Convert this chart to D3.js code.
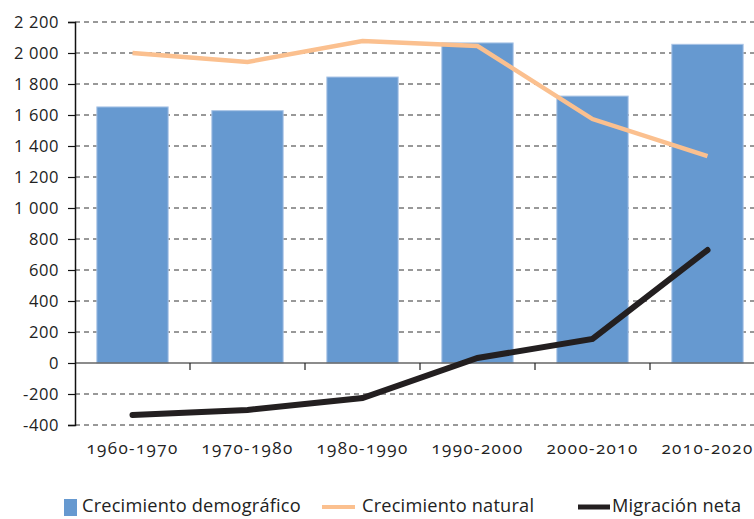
<!DOCTYPE html>
<html><head><meta charset="utf-8">
<script src="https://cdn.jsdelivr.net/npm/d3@7"></script>
<style>
body{margin:0;background:#fff;}
svg{display:block;font-family:"Open Sans",sans-serif;}
.num{font-feature-settings:"onum" 1;}
</style></head><body>
<svg id="c" width="754" height="519"></svg>
<script>
const categories = ["1960-1970","1970-1980","1980-1990","1990-2000","2000-2010","2010-2020"];
const crecimientoDemografico = [1652, 1628, 1845, 2065, 1722, 2056];
const crecimientoNatural = [2000, 1942, 2077, 2045, 1574, 1335];
const migracionNeta = [-335, -303, -226, 32, 155, 729];
const yTicks = [-400,-200,0,200,400,600,800,1000,1200,1400,1600,1800,2000,2200];
const seriesNames = ["Crecimiento demográfico","Crecimiento natural","Migración neta"];

const svg = d3.select("#c");
const x0 = 75, plotRight = 765;
const x = d3.scaleBand().domain(categories).range([x0, plotRight]).paddingInner(0.38).paddingOuter(0.19);
const y = d3.scaleLinear().domain([-400,2200]).range([425,22]);
const fmt = v => (v<0?"-":"") + d3.format(",")(Math.abs(v)).replace(/,/g," ");

// gridlines
svg.append("g").selectAll("line").data(yTicks.filter(t=>t!==0)).join("line")
  .attr("x1",x0).attr("x2",754).attr("y1",d=>y(d)).attr("y2",d=>y(d))
  .attr("stroke","#333").attr("stroke-width",1).attr("stroke-dasharray","5,4");

// bars
svg.append("g").selectAll("rect").data(crecimientoDemografico).join("rect")
  .attr("x",(d,i)=>x(categories[i])).attr("width",x.bandwidth())
  .attr("y",d=>y(d)).attr("height",d=>y(0)-y(d))
  .attr("fill","#6699d0").attr("stroke","#a9c4e6").attr("stroke-width",1);

// zero axis
svg.append("line").attr("x1",x0).attr("x2",754).attr("y1",y(0)).attr("y2",y(0))
  .attr("stroke","#666").attr("stroke-width",1.5);
// category ticks
svg.append("g").selectAll("line").data(categories.slice(1)).join("line")
  .attr("x1",d=>x(d)-x.step()*0.19).attr("x2",d=>x(d)-x.step()*0.19)
  .attr("y1",y(0)).attr("y2",y(0)+7).attr("stroke","#222").attr("stroke-width",1.2);

// y axis
const yAxis = d3.axisLeft(y).tickValues(yTicks).tickFormat(fmt).tickSize(7).tickPadding(7);
const ya = svg.append("g").attr("transform",`translate(${x0},0)`).call(yAxis);
ya.select(".domain").attr("stroke","#111").attr("stroke-width",1.5);
ya.selectAll(".tick line").attr("stroke","#111").attr("stroke-width",1.2);
ya.selectAll("text").attr("font-size",16.5).attr("fill","#222").attr("font-family","'Open Sans',sans-serif")
  .attr("letter-spacing",0.6).attr("dx",-2);

// lines
const line = d3.line().x((d,i)=>x(categories[i])+x.bandwidth()/2).y(d=>y(d));
svg.append("path").datum(crecimientoNatural).attr("d",line)
  .attr("fill","none").attr("stroke","#fbc08f").attr("stroke-width",4.5);
svg.append("path").datum(migracionNeta).attr("d",line)
  .attr("fill","none").attr("stroke","#231f20").attr("stroke-width",6).attr("stroke-linecap","round");

// x labels
svg.append("g").selectAll("text").data(categories).join("text")
  .attr("class","num")
  .attr("x",d=>x(d)+x.bandwidth()/2).attr("y",454)
  .attr("text-anchor","middle").attr("font-size",17).attr("letter-spacing",1.4)
  .attr("fill","#222").text(d=>d);

// legend
const lg = svg.append("g").attr("font-size",18.2).attr("fill","#222");
lg.append("rect").attr("x",64).attr("y",499).attr("width",13).attr("height",17).attr("fill","#6699d0");
lg.append("text").attr("x",82).attr("y",512).attr("letter-spacing",0.2).text(seriesNames[0]);
lg.append("line").attr("x1",322).attr("x2",355).attr("y1",507).attr("y2",507).attr("stroke","#fbc08f").attr("stroke-width",4);
lg.append("text").attr("x",362).attr("y",512).attr("letter-spacing",0.2).text(seriesNames[1]);
lg.append("line").attr("x1",578).attr("x2",610).attr("y1",507).attr("y2",507).attr("stroke","#231f20").attr("stroke-width",5);
lg.append("text").attr("x",612).attr("y",512).attr("letter-spacing",0.2).text(seriesNames[2]);
</script></body></html>
